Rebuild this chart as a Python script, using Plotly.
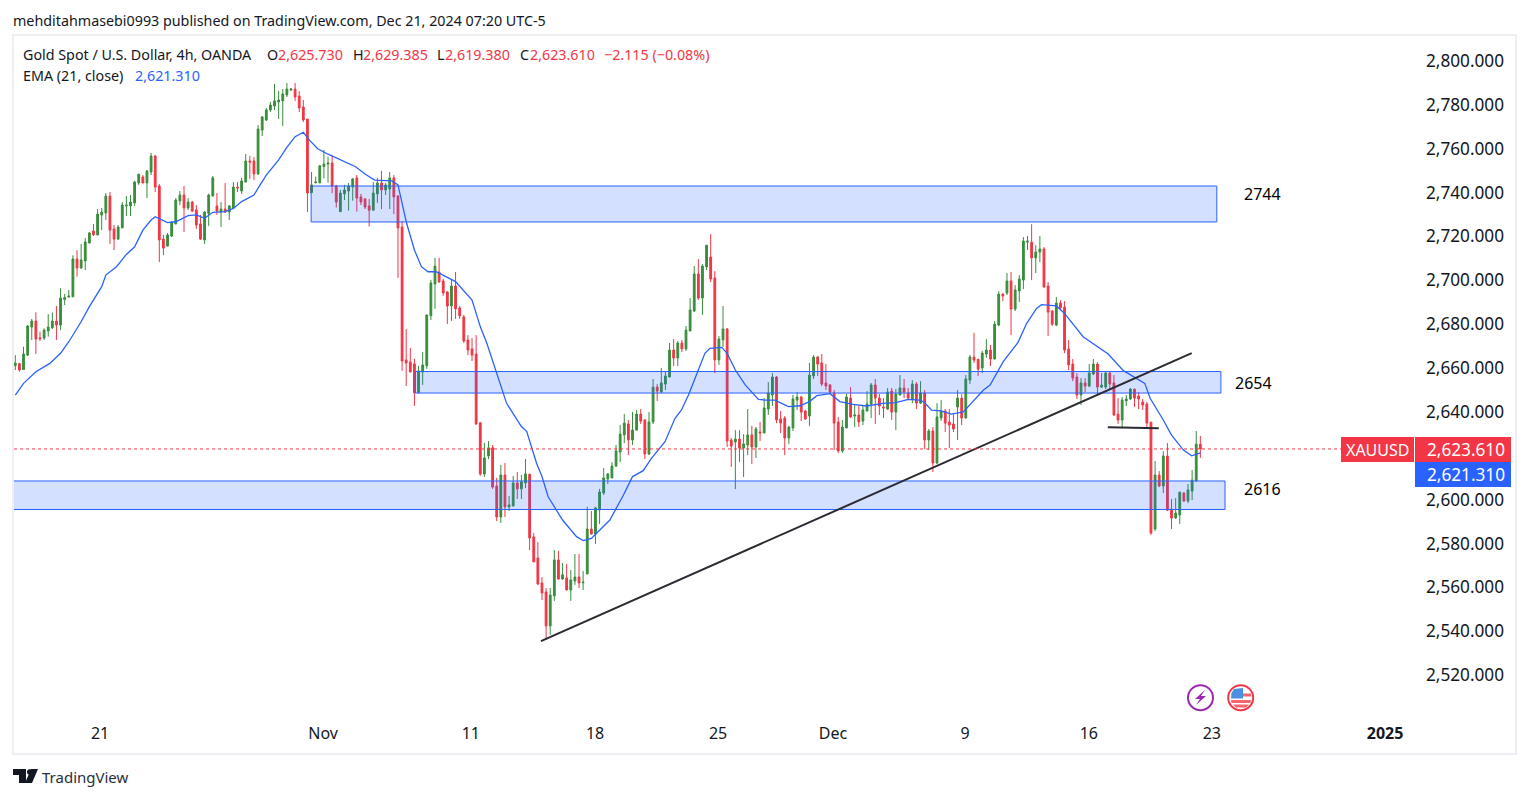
import plotly.graph_objects as go

opens = [2661.1,2662.0,2659.3,2665.9,2678.7,2681.4,2673.8,2673.7,2676.9,2678.4,
2681.4,2679.6,2691.3,2692.4,2692.5,2709.7,2705.6,2708.8,2717.0,2722.5,
2720.7,2729.8,2730.7,2738.4,2723.4,2718.8,2723.9,2733.9,2733.9,2735.3,
2744.4,2747.1,2744.4,2749.4,2756.7,2743.0,2718.8,2715.6,2720.2,2725.7,
2736.2,2738.9,2733.0,2735.7,2732.1,2725.7,2718.4,2730.5,2738.4,2733.9,
2731.1,2732.5,2731.1,2733.0,2742.5,2740.7,2744.8,2754.4,2754.4,2748.5,
2768.5,2773.1,2777.7,2779.5,2781.3,2781.8,2784.5,2786.8,2787.2,2784.0,
2779.0,2773.5,2740.0,2744.5,2744.5,2751.9,2753.0,2753.5,2743.0,2731.3,
2739.4,2740.7,2742.6,2746.7,2738.0,2737.1,2733.9,2732.0,2739.4,2744.4,
2741.2,2741.6,2746.7,2738.4,2724.3,2663.7,2662.8,2661.9,2648.7,2658.2,
2661.0,2683.8,2698.3,2703.8,2699.7,2694.7,2688.3,2697.4,2687.4,2683.3,
2672.8,2668.7,2666.4,2635.0,2611.7,2619.9,2623.6,2606.2,2592.1,2611.2,
2596.7,2597.1,2607.6,2604.9,2607.6,2611.6,2583.0,2573.4,2562.0,2557.9,
2542.4,2556.1,2572.5,2563.8,2564.3,2558.8,2562.9,2564.7,2562.1,2566.1,
2586.6,2584.3,2595.3,2603.0,2609.4,2609.9,2615.3,2621.7,2629.5,2634.5,
2627.2,2631.7,2639.0,2636.3,2620.8,2635.4,2651.3,2649.1,2652.7,2655.9,
2668.2,2664.6,2671.4,2668.7,2676.9,2686.0,2702.9,2691.9,2706.1,2710.6,
2701.1,2663.7,2672.8,2677.8,2627.2,2626.3,2627.6,2623.5,2624.9,2629.5,
2624.0,2630.8,2630.4,2641.3,2647.7,2655.9,2636.8,2637.2,2628.1,2632.7,
2645.4,2646.8,2640.4,2638.1,2656.4,2665.0,2662.3,2653.2,2652.3,2648.6,
2635.4,2622.2,2632.7,2646.3,2638.1,2638.6,2635.8,2640.4,2643.6,2652.3,
2646.3,2642.2,2641.3,2649.5,2639.9,2647.7,2650.9,2648.6,2645.9,2652.7,
2644.0,2648.6,2627.2,2631.3,2616.7,2637.2,2640.4,2635.4,2634.5,2642.2,
2646.3,2637.2,2654.5,2665.0,2664.0,2660.0,2666.4,2668.2,2664.1,2679.6,
2693.7,2694.2,2699.7,2686.9,2695.1,2700.1,2717.4,2717.4,2710.2,2712.9,
2714.3,2697.4,2686.0,2679.6,2689.6,2687.8,2668.7,2661.8,2655.9,2647.7,
2653.2,2651.8,2657.3,2661.8,2651.3,2651.3,2657.7,2653.2,2639.0,2636.3,
2645.0,2645.9,2650.4,2647.2,2644.5,2643.6,2635.3,2586.6,2611.2,2606.2,
2619.9,2595.7,2591.6,2593.0,2603.0,2599.4,2603.9,2608.5,2625.3]

highs = [2665.9,2662.4,2669.7,2679.6,2682.4,2685.4,2676.6,2678.1,2684.6,2685.4,
2688.3,2696.3,2693.8,2695.6,2711.4,2713.7,2716.6,2719.3,2722.0,2725.7,
2732.5,2733.0,2739.8,2740.3,2725.2,2725.2,2735.7,2738.4,2738.9,2745.3,
2748.5,2748.0,2750.3,2758.1,2757.1,2743.9,2720.7,2721.6,2727.0,2737.5,
2740.7,2743.0,2737.5,2736.2,2734.3,2729.8,2731.6,2739.5,2747.6,2739.8,
2735.7,2744.4,2734.3,2744.8,2744.8,2746.7,2757.6,2756.7,2756.2,2770.8,
2774.9,2778.6,2781.3,2789.5,2786.3,2787.2,2790.0,2787.7,2790.0,2786.3,
2782.2,2773.6,2749.4,2747.3,2752.6,2759.4,2756.4,2757.0,2743.5,2741.2,
2743.5,2744.4,2746.7,2748.0,2739.4,2737.5,2737.1,2744.8,2746.7,2749.9,
2744.4,2749.4,2748.0,2738.9,2727.0,2677.8,2669.2,2664.2,2661.0,2667.3,
2684.3,2700.2,2710.2,2710.2,2700.6,2695.1,2700.2,2703.8,2688.3,2684.2,
2675.0,2673.7,2675.0,2635.4,2625.8,2626.7,2624.9,2609.9,2615.8,2616.7,
2601.7,2610.8,2612.6,2611.2,2618.5,2611.7,2584.8,2580.7,2564.7,2559.7,
2559.7,2577.0,2576.6,2571.1,2570.7,2567.9,2575.2,2575.2,2567.5,2596.7,
2594.8,2596.7,2604.9,2614.4,2612.1,2617.1,2624.9,2634.0,2639.0,2636.3,
2639.9,2640.9,2641.3,2636.8,2639.9,2655.0,2652.7,2660.0,2658.6,2671.4,
2673.2,2672.3,2672.8,2679.2,2691.9,2706.5,2709.7,2707.4,2716.1,2721.1,
2704.2,2674.6,2688.3,2678.3,2628.1,2631.7,2631.7,2629.9,2641.3,2633.6,
2633.1,2635.4,2646.3,2653.6,2657.7,2656.4,2640.4,2638.1,2633.6,2647.7,
2649.1,2647.2,2640.9,2662.3,2665.9,2665.5,2666.4,2661.8,2652.7,2650.0,
2637.7,2636.3,2648.2,2651.3,2643.1,2642.7,2643.1,2649.5,2653.2,2655.0,
2648.2,2646.3,2650.9,2650.9,2650.4,2656.8,2655.0,2650.9,2654.5,2653.6,
2654.0,2650.0,2632.2,2633.1,2644.0,2645.4,2641.3,2641.3,2639.0,2650.0,
2648.1,2656.8,2665.9,2676.0,2664.1,2667.8,2673.2,2670.5,2681.4,2695.1,
2694.2,2703.3,2703.8,2697.8,2702.4,2719.7,2720.2,2725.6,2716.0,2720.2,
2715.2,2699.2,2686.4,2692.4,2691.0,2690.5,2672.8,2664.1,2657.7,2655.4,
2655.4,2661.8,2664.1,2662.7,2657.7,2658.2,2658.2,2656.8,2646.3,2646.8,
2647.7,2650.9,2650.5,2649.0,2645.9,2644.5,2635.4,2617.6,2613.0,2622.1,
2625.8,2600.3,2600.7,2603.5,2603.4,2607.1,2613.5,2631.3,2629.0]

lows = [2659.1,2658.3,2659.1,2665.5,2672.8,2666.4,2672.3,2672.8,2674.3,2677.8,
2672.8,2677.3,2688.7,2692.1,2692.4,2701.7,2705.4,2704.7,2716.9,2720.2,
2720.5,2722.9,2727.5,2716.6,2713.8,2718.4,2723.8,2729.3,2729.3,2733.9,
2743.5,2744.2,2737.5,2748.0,2740.3,2708.3,2711.5,2715.5,2719.7,2725.6,
2734.3,2722.0,2732.1,2731.1,2723.4,2718.4,2716.6,2724.8,2738.3,2729.8,
2724.3,2730.7,2727.5,2732.9,2740.3,2739.4,2744.7,2746.2,2745.7,2748.0,
2765.8,2772.6,2776.7,2777.7,2773.6,2770.4,2783.6,2786.3,2781.8,2776.7,
2772.2,2731.1,2739.7,2744.2,2744.2,2746.5,2744.5,2739.7,2733.2,2731.2,
2736.6,2731.8,2736.3,2731.3,2734.3,2732.5,2724.5,2731.8,2735.3,2732.5,
2738.9,2732.5,2730.2,2701.1,2658.7,2651.8,2658.1,2642.7,2648.6,2652.3,
2659.6,2681.9,2687.0,2698.8,2692.9,2680.1,2681.5,2682.4,2682.4,2671.4,
2665.9,2663.2,2634.1,2610.8,2610.3,2618.5,2604.9,2590.2,2589.4,2592.1,
2594.8,2597.0,2600.3,2600.3,2605.3,2577.0,2571.5,2561.1,2554.2,2536.0,
2538.3,2553.8,2563.4,2563.4,2558.7,2553.8,2561.1,2559.7,2558.8,2566.0,
2584.2,2579.8,2588.9,2602.1,2607.1,2609.8,2614.9,2617.1,2625.8,2620.3,
2624.9,2631.6,2634.5,2618.5,2620.3,2634.5,2645.0,2648.6,2650.0,2655.8,
2660.9,2660.9,2667.3,2667.8,2676.8,2685.5,2691.0,2684.2,2704.7,2699.2,
2657.7,2661.4,2669.6,2624.0,2614.9,2604.8,2617.1,2610.3,2620.3,2616.2,
2619.0,2626.7,2630.3,2638.6,2642.7,2634.9,2630.4,2620.3,2625.4,2631.3,
2640.9,2635.8,2636.3,2633.6,2655.0,2656.4,2651.8,2650.0,2648.2,2622.6,
2621.3,2621.3,2632.6,2637.2,2633.1,2633.1,2634.0,2640.3,2637.2,2634.5,
2638.6,2637.2,2640.9,2636.3,2631.7,2647.6,2646.3,2645.4,2644.0,2641.3,
2643.6,2623.1,2622.6,2612.6,2616.2,2635.9,2630.8,2623.5,2630.8,2627.2,
2634.0,2637.1,2652.7,2662.3,2656.4,2657.7,2664.6,2660.9,2664.0,2679.1,
2690.5,2693.3,2675.0,2686.0,2690.1,2696.0,2713.8,2700.1,2703.3,2708.3,
2696.8,2674.6,2679.1,2679.1,2686.4,2666.8,2659.1,2654.0,2645.9,2643.1,
2649.0,2651.3,2656.8,2648.1,2650.9,2650.4,2650.4,2638.1,2634.5,2632.6,
2642.7,2645.4,2642.2,2641.3,2640.9,2632.6,2583.9,2585.7,2605.7,2603.0,
2594.8,2586.6,2591.2,2588.9,2598.9,2598.4,2599.8,2608.4,2619.0]

closes = [2662.3,2659.1,2666.4,2679.2,2681.4,2673.2,2673.4,2677.3,2678.7,2681.4,
2679.6,2691.9,2692.2,2692.8,2709.7,2705.6,2709.3,2717.5,2721.6,2720.7,
2730.2,2731.1,2738.4,2722.9,2718.8,2724.3,2734.3,2734.3,2735.7,2744.8,
2748.4,2744.4,2749.8,2756.7,2742.5,2718.4,2714.7,2720.7,2726.6,2736.6,
2738.9,2733.0,2735.7,2731.6,2725.2,2718.8,2731.1,2738.9,2746.7,2731.6,
2732.5,2731.1,2733.9,2742.5,2742.1,2745.3,2754.4,2753.9,2748.5,2769.0,
2774.5,2777.7,2779.9,2781.8,2782.2,2785.0,2787.2,2787.2,2783.6,2778.6,
2773.1,2739.8,2743.5,2744.8,2752.2,2753.0,2753.5,2743.0,2735.7,2739.8,
2741.2,2743.0,2746.2,2737.5,2735.7,2733.4,2732.0,2739.8,2744.4,2741.2,
2743.5,2746.7,2738.0,2723.9,2663.2,2662.3,2658.2,2648.7,2658.7,2661.4,
2684.2,2698.8,2706.5,2699.3,2694.2,2688.3,2697.4,2687.0,2683.8,2672.3,
2668.2,2665.9,2634.5,2611.7,2619.0,2623.6,2605.7,2592.1,2611.2,2596.7,
2597.6,2607.6,2604.9,2608.1,2611.7,2582.5,2571.6,2561.5,2557.4,2542.4,
2556.5,2572.5,2563.8,2565.7,2558.8,2563.4,2564.7,2562.0,2562.4,2586.6,
2584.3,2596.2,2603.5,2609.9,2611.7,2615.3,2622.2,2629.9,2634.9,2627.2,
2631.7,2639.0,2635.8,2620.8,2635.4,2651.3,2649.5,2653.2,2656.4,2668.2,
2664.6,2671.4,2668.7,2677.3,2686.5,2702.9,2691.9,2706.5,2716.0,2700.6,
2663.7,2673.2,2677.8,2626.7,2624.4,2627.6,2623.5,2625.4,2629.5,2624.0,
2632.2,2630.4,2641.8,2648.6,2655.9,2636.3,2634.9,2628.1,2633.1,2645.9,
2646.8,2639.9,2636.8,2656.8,2665.0,2661.8,2652.7,2651.8,2649.1,2634.9,
2622.2,2633.1,2646.8,2637.7,2638.6,2635.4,2640.9,2643.6,2652.3,2646.3,
2642.7,2641.8,2649.1,2639.9,2648.2,2650.9,2649.1,2646.3,2652.7,2644.0,
2648.6,2627.2,2631.3,2616.7,2637.7,2640.4,2634.9,2634.0,2632.2,2646.3,
2637.2,2655.0,2665.0,2663.6,2659.5,2666.8,2668.2,2664.1,2680.0,2693.7,
2692.8,2699.7,2686.9,2695.6,2700.6,2717.9,2717.9,2710.2,2712.9,2714.3,
2696.9,2685.5,2680.0,2689.6,2687.4,2668.2,2661.4,2655.4,2647.7,2653.2,
2651.8,2657.7,2661.8,2651.3,2652.2,2657.7,2652.7,2638.6,2636.3,2645.4,
2645.9,2650.4,2646.3,2645.9,2643.1,2634.9,2584.8,2611.2,2606.2,2619.9,
2595.2,2591.6,2593.9,2603.4,2599.4,2604.4,2608.9,2625.3,2623.1]

ema_bar = [0,2,5,8.4,11,13,16,18,21,22,24.6,27,29,31,33,34,37,39,42,44,46,48,51,53,55,58,59.5,61,64,66,68,70,71.6,
73.5,76,79,82.7,85,87.3,91.5,93,95.1,97,98.7,100.3,102.3,104.8,107,111,113,114.6,117,119.4,123,124.3,126.7,128,129.5,131,133,136.4,138,140,142,
144.5,147.8,150,152.6,154.6,157.9,160.3,161.9,163.6,166,167.6,168.8,171.7,173,175,177.4,180.6,182.2,184.6,187.9,190.7,193,194.8,198,200.4,203.6,206.9,210.9,214,
217,219.9,221,222.7,225,227.5,230.4,233.2,235.3,236.9,238.5,240.1,243.7,245.8,248.2,249.4,253,255,259.5,262.4,265.6,269.3,274.5,275.8,279,281,283.9,285.9,288]
ema_val = [2647.7,2653,2658.3,2662.1,2666.7,2672,2681.1,2688,2697.1,2702.4,2706.2,2711.8,2715.3,2722.9,2727.5,2729,2726.3,2726.7,2729.5,2729.8,2728.3,2731,2731.3,2732.8,2735.9,2738.9,2743.5,2748,2754.9,2760.6,2765.5,2767.5,2763.7,
2760,2757.5,2754.9,2751.8,2748.5,2745.7,2745.3,2743.5,2726,2713.8,2706.2,2703.9,2703.9,2701.4,2699.4,2691,2678.9,2671.3,2657.6,2643.9,2633.3,2631,2616.5,2610.5,2601.3,2596.8,2590.7,2583.1,2581.3,2582.3,2586.1,
2590.7,2602.1,2610.5,2613.2,2618.8,2626.4,2637,2640.9,2647.7,2659.1,2666.7,2669,2669.4,2666.7,2659.1,2652.3,2645.7,2645.4,2645.4,2642.4,2642.8,2644.7,2647.4,2648.3,2644.7,2643.4,2642.7,2643.9,2644.2,
2645.7,2645.4,2644.2,2640.8,2640.5,2639,2640,2645.7,2650,2652.2,2657.6,2662.9,2671.7,2680.4,2687.2,2688.9,2688.3,2684.9,2674.3,2670.5,2666.4,2658.8,2653,2646.2,2636.3,2629.4,2622.6,2620,2621.31]

price_ticks = [2520,2540,2560,2580,2600,2640,2660,2680,2700,2720,2740,2760,2780,2800]
date_labels = ["21","Nov","11","18","25","Dec","9","16","23","<b>2025</b>"]
date_bars = [20.6,74.8,110.7,140.9,170.8,198.7,230.8,260.9,290.8,332.9]

zone_names = ["2744","2654","2616"]
zone_top = [2743.0,2658.4,2608.5]
zone_bottom = [2726.6,2648.6,2595.5]
zone_start = [71.9,97.2,-5]
zone_end = [292.0,293.0,294.0]
zone_label_bar = [303.1,300.9,303.1]
zone_label_price = [2739.2,2653.2,2604.8]

trend_bar = [127.75,285.9]
trend_price = [2535.5,2666.8]
support_bar = [265.5,277.9]
support_price = [2633.0,2632.5]

last_close_line = 2623.1

GREEN = "#388e3c"; RED = "#f23645"; BLUE = "#2962ff"; INK = "#131722"
FONT = "Noto Sans"

L, R, T, B = 14, 1425, 36, 722
def px(x): return (x - L) / (R - L)
def py(y): return (B - y) / (B - T)

fig = go.Figure()
fig.add_trace(go.Candlestick(
    x=list(range(len(opens))), open=opens, high=highs, low=lows, close=closes,
    increasing=dict(line=dict(color=GREEN, width=1), fillcolor=GREEN),
    decreasing=dict(line=dict(color=RED, width=1), fillcolor=RED),
    whiskerwidth=0, showlegend=False, hoverinfo="skip"))
fig.add_trace(go.Scatter(x=ema_bar, y=ema_val, mode="lines",
    line=dict(color=BLUE, width=1.3), showlegend=False, hoverinfo="skip"))

shapes = []
for i in range(3):
    shapes.append(dict(type="rect", xref="x", yref="y", x0=zone_start[i], x1=zone_end[i],
                       y0=zone_bottom[i], y1=zone_top[i], layer="above",
                       fillcolor="rgba(41,98,255,0.2)", line=dict(color=BLUE, width=1)))
shapes.append(dict(type="line", xref="x", yref="y", x0=trend_bar[0], x1=trend_bar[1],
                   y0=trend_price[0], y1=trend_price[1], line=dict(color="#2a2a32", width=2)))
shapes.append(dict(type="line", xref="x", yref="y", x0=support_bar[0], x1=support_bar[1],
                   y0=support_price[0], y1=support_price[1], line=dict(color="#2a2a32", width=2)))
shapes.append(dict(type="line", xref="paper", yref="y", x0=0, x1=px(1341), y0=last_close_line, y1=last_close_line,
                   line=dict(color=RED, width=1, dash="dot")))
shapes.append(dict(type="rect", xref="paper", yref="paper", x0=px(13), x1=px(1516), y0=py(754), y1=py(35),
                   line=dict(color="#eeeef4", width=2), layer="below"))
for (x0, x1, y0, y1, c) in [(1341,1414,437,462,RED),(1415,1511,437,462,RED),(1415,1511,462,487,BLUE)]:
    shapes.append(dict(type="rect", xref="paper", yref="paper", x0=px(x0), x1=px(x1), y0=py(y1), y1=py(y0),
                       fillcolor=c, line=dict(width=0), layer="above"))
def poly(points):
    return "M " + " L ".join(f"{px(a):.5f},{py(b):.5f}" for a, b in points) + " Z"
def circle(cx, cy, r, line, fill="white", w=2):
    return dict(type="circle", xref="paper", yref="paper", x0=px(cx-r), x1=px(cx+r), y0=py(cy+r), y1=py(cy-r),
                line=dict(color=line, width=w), fillcolor=fill, layer="above")
def path(points, fill):
    return dict(type="path", xref="paper", yref="paper", path=poly(points), fillcolor=fill,
                line=dict(width=0), layer="above")
shapes.append(circle(1200.5, 697.7, 12.5, "#9c27b0"))
shapes.append(path([(1205,690),(1195,699),(1200,699),(1196,705),(1206,696),(1201,696)], "#9c27b0"))
shapes.append(circle(1240.7, 697.7, 12.5, RED))
shapes.append(path([(1243,693.5),(1251,693.5),(1251,696.5),(1243,696.5)], "#f5656f"))
shapes.append(path([(1231,700),(1251,700),(1250.5,703),(1231.5,703)], "#f5656f"))
shapes.append(path([(1233,704.5),(1249,704.5),(1246,707.5),(1236,707.5)], "#f5656f"))
shapes.append(path([(1234,689),(1243,688),(1243,698.5),(1231,698.5),(1231.5,693)], "#4a90e2"))
shapes.append(path([(13,769),(26,769),(26,783),(19,783),(19,775),(13,775)], INK))
shapes.append(circle(29.8, 772, 2.8, INK, INK, 0))
shapes.append(path([(31,769),(38,769),(32,783),(25,783)], INK))

def note(x, y, text, color=INK, size=14.3, anchor="left"):
    return dict(xref="paper", yref="paper", x=px(x), y=py(y), text=text, showarrow=False, xanchor=anchor,
                yanchor="middle", font=dict(family=FONT, size=size, color=color), borderpad=0, borderwidth=0)

annotations = [
    note(13, 20, "mehditahmasebi0993 published on TradingView.com, Dec 21, 2024 07:20 UTC-5"),
    note(23, 54, "Gold Spot / U.S. Dollar, 4h, OANDA"),
    note(267, 54, "O"), note(277.5, 54, "2,625.730", RED),
    note(353, 54, "H"), note(362.5, 54, "2,629.385", RED),
    note(437.5, 54, "L"), note(445, 54, "2,619.380", RED),
    note(520, 54, "C"), note(529.5, 54, "2,623.610", RED),
    note(604, 54, "−2.115 (−0.08%)", RED),
    note(23, 75, "EMA (21, close)"), note(135, 75, "2,621.310", BLUE),
    note(1377, 449.5, "XAUUSD", "white", 16, "center"),
    note(1465.5, 449.5, "2,623.610", "white", 17.2, "center"),
    note(1465.5, 474, "2,621.310", "white", 17.2, "center"),
    note(42, 777, "TradingView", "#2a2e39", 15),
]
for i in range(3):
    annotations.append(dict(xref="x", yref="y", x=zone_label_bar[i], y=zone_label_price[i], text=zone_names[i],
                            showarrow=False, xanchor="center", yanchor="middle",
                            font=dict(family=FONT, size=16, color="#000000")))

fig.update_layout(
    width=1529, height=798, autosize=False,
    margin=dict(l=L, r=1529-R, t=T, b=798-B, pad=0),
    paper_bgcolor="white", plot_bgcolor="white",
    font=dict(family=FONT, color=INK), showlegend=False,
    boxgap=0.38, shapes=shapes, annotations=annotations,
    xaxis=dict(range=[-0.316, 342.6], tickmode="array", tickvals=date_bars, ticktext=date_labels,
               showgrid=False, zeroline=False, showline=False, ticks="", rangeslider=dict(visible=False),
               tickfont=dict(family=FONT, size=16, color=INK)),
    yaxis=dict(range=[2498.6, 2811.4], side="right", tickmode="array", tickvals=price_ticks,
               tickformat=",.3f", showgrid=False, zeroline=False, showline=False, ticks="",
               tickfont=dict(family=FONT, size=17.2, color=INK)),
)
fig.write_html("out.html", config={"displayModeBar": False},
               post_script="document.body.style.margin='0';document.documentElement.style.overflow='hidden';window.dispatchEvent(new Event('resize'));")
